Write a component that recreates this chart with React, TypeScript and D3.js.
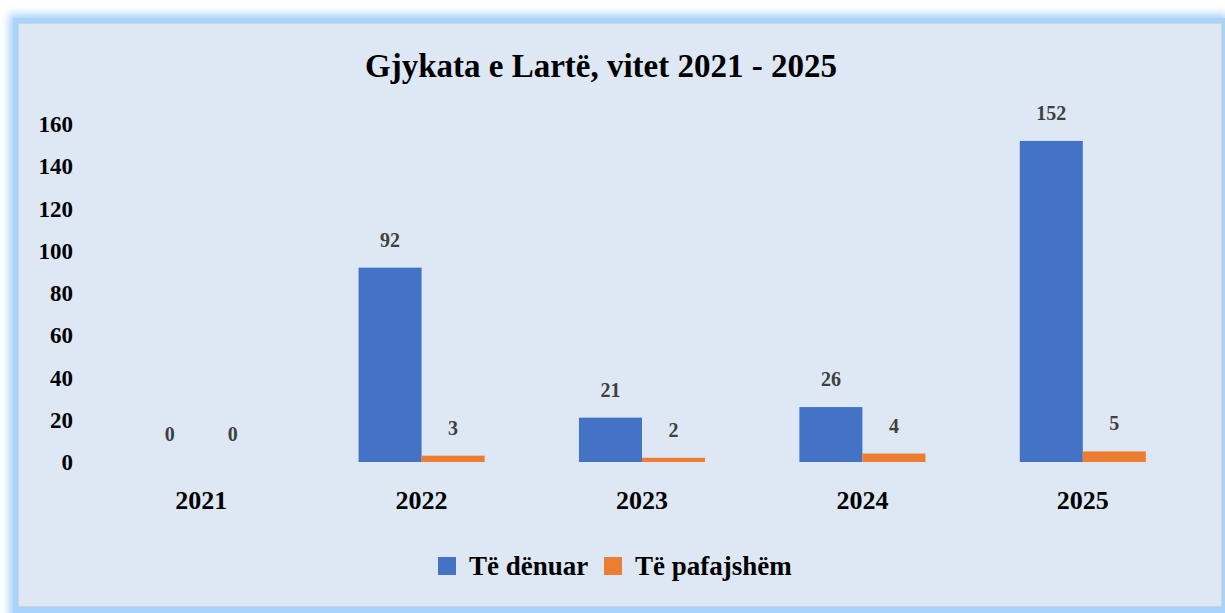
import React from "react";
import * as d3 from "d3";

const years = ["2021", "2022", "2023", "2024", "2025"];
const seriesNames = ["Të dënuar", "Të pafajshëm"];
const denuar = [0, 92, 21, 26, 152];
const pafajshem = [0, 3, 2, 4, 5];
const yTicks = [0, 20, 40, 60, 80, 100, 120, 140, 160];
const colours = ["#4472c4", "#ed7d31"];
const title = "Gjykata e Lartë, vitet 2021 - 2025";

const W = 1225;
const H = 613;
const FONT = "'Liberation Serif', 'Times New Roman', serif";

export default function App() {
  const ref = React.useRef<SVGSVGElement>(null);

  React.useEffect(() => {
    const svg = d3.select(ref.current);
    svg.selectAll("*").remove();

    // frame with soft blue glow
    const defs = svg.append("defs");
    defs
      .append("filter")
      .attr("id", "glow")
      .attr("x", "-5%")
      .attr("y", "-5%")
      .attr("width", "110%")
      .attr("height", "110%")
      .append("feGaussianBlur")
      .attr("stdDeviation", 4);

    svg.append("rect").attr("width", W).attr("height", H).attr("fill", "#ffffff");
    svg
      .append("rect")
      .attr("x", 9)
      .attr("y", 14)
      .attr("width", W - 6)
      .attr("height", H - 8)
      .attr("fill", "#a9d3fb")
      .attr("filter", "url(#glow)");
    svg
      .append("rect")
      .attr("x", 13)
      .attr("y", 18)
      .attr("width", W - 13)
      .attr("height", H - 18)
      .attr("fill", "#a9d3fb");
    svg
      .append("rect")
      .attr("x", 18.5)
      .attr("y", 23.5)
      .attr("width", 1203)
      .attr("height", 583)
      .attr("fill", "#dde8f4")
      .attr("stroke", "#cfd3d8")
      .attr("stroke-width", 1);

    const series = [denuar, pafajshem];

    const x = d3
      .scaleBand()
      .domain(years)
      .range([91, 1193])
      .paddingInner(0.428)
      .paddingOuter(0.214);
    const xs = d3.scaleBand().domain(seriesNames).range([0, x.bandwidth()]);
    const y = d3.scaleLinear().domain([0, 160]).range([462, 124]);

    // y axis labels
    svg
      .append("g")
      .selectAll("text")
      .data(yTicks)
      .enter()
      .append("text")
      .attr("x", 73)
      .attr("y", (d) => y(d))
      .attr("dy", "0.35em")
      .attr("text-anchor", "end")
      .style("font-family", FONT)
      .style("font-weight", "bold")
      .style("font-size", "23px")
      .attr("fill", "#000")
      .text((d) => d);

    // bars
    series.forEach((vals, si) => {
      const g = svg.append("g");
      g.selectAll("rect")
        .data(vals)
        .enter()
        .append("rect")
        .attr("x", (d, i) => x(years[i])! + xs(seriesNames[si])!)
        .attr("y", (d) => y(d))
        .attr("width", xs.bandwidth())
        .attr("height", (d) => y(0) - y(d))
        .attr("fill", colours[si]);

      g.selectAll("text")
        .data(vals)
        .enter()
        .append("text")
        .attr("x", (d, i) => x(years[i])! + xs(seriesNames[si])! + xs.bandwidth() / 2)
        .attr("y", (d) => y(d) - 21)
        .attr("text-anchor", "middle")
        .style("font-family", FONT)
        .style("font-weight", "bold")
        .style("font-size", "20px")
        .attr("fill", "#404040")
        .text((d) => d);
    });

    // x axis labels
    svg
      .append("g")
      .selectAll("text")
      .data(years)
      .enter()
      .append("text")
      .attr("x", (d) => x(d)! + x.bandwidth() / 2)
      .attr("y", 509)
      .attr("text-anchor", "middle")
      .style("font-family", FONT)
      .style("font-weight", "bold")
      .style("font-size", "26px")
      .attr("fill", "#000")
      .text((d) => d);

    // title
    svg
      .append("text")
      .attr("x", 601)
      .attr("y", 77)
      .attr("text-anchor", "middle")
      .style("font-family", FONT)
      .style("font-weight", "bold")
      .style("font-size", "33px")
      .attr("fill", "#000")
      .text(title);

    // legend
    const legendX = [438, 604];
    seriesNames.forEach((name, i) => {
      svg
        .append("rect")
        .attr("x", legendX[i])
        .attr("y", 557)
        .attr("width", 18)
        .attr("height", 18)
        .attr("fill", colours[i]);
      svg
        .append("text")
        .attr("x", legendX[i] + 31)
        .attr("y", 575)
        .style("font-family", FONT)
        .style("font-weight", "bold")
        .style("font-size", "27px")
        .attr("fill", "#000")
        .text(name);
    });
  }, []);

  return (
    <svg
      ref={ref}
      width={W}
      height={H}
      style={{ position: "absolute", left: 0, top: 0, display: "block" }}
    />
  );
}
